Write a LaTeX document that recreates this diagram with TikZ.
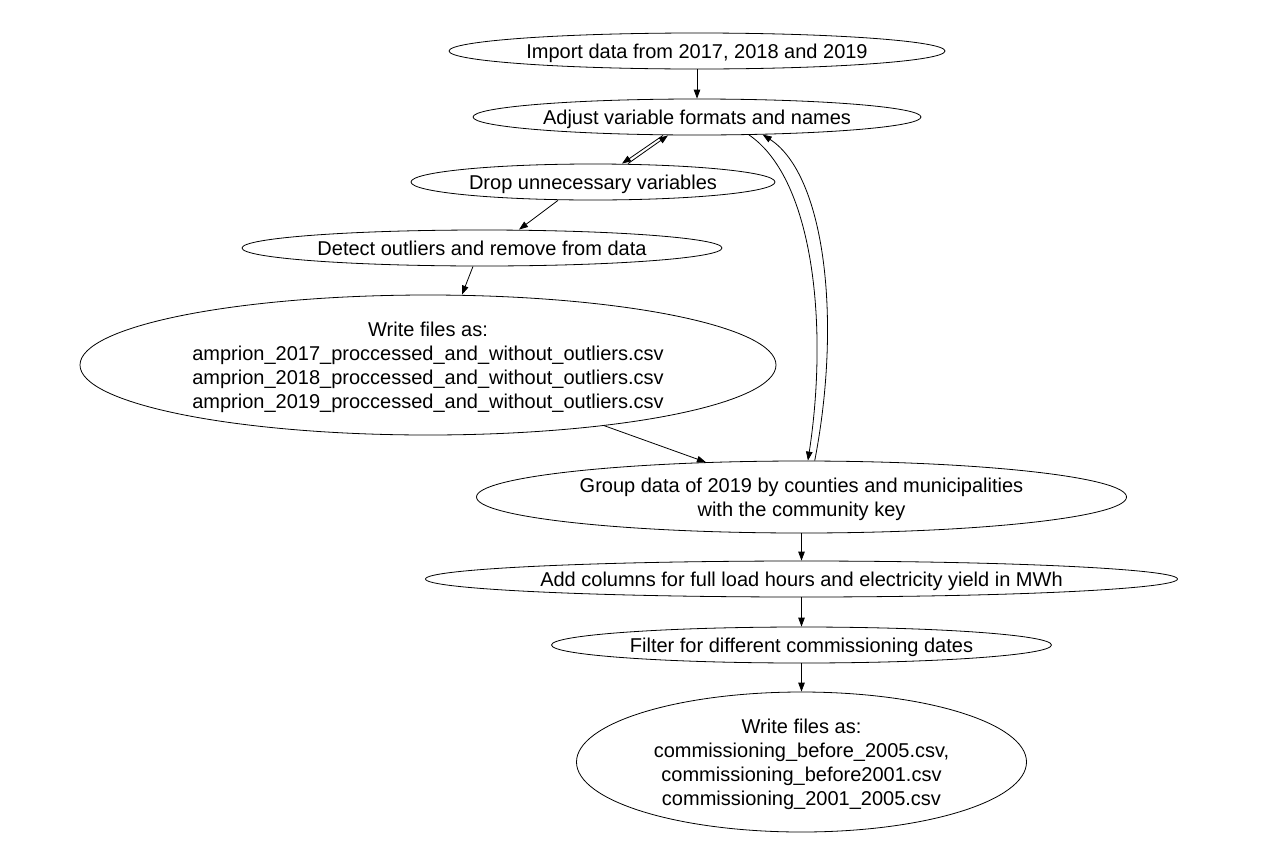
\documentclass[tikz,border=0pt]{standalone}
\usepackage{fontspec}
\setmainfont{Liberation Sans}
\usetikzlibrary{shapes.geometric,arrows.meta}

\begin{document}
\begin{tikzpicture}[x=1pt, y=-1pt,
    every node/.style={font=\fontsize{20}{24}\selectfont},
    stage/.style={ellipse, draw, line width=0.8pt, inner sep=0pt, text depth=0pt, align=center},
    flow/.style={-{Triangle[length=9pt,width=6.5pt]}, line width=0.8pt}
    ]
  \useasboundingbox (0,0) rectangle (1273,849);
  \node[stage, minimum width=496pt, minimum height=36pt] (imp) at (697,51) {Import data from 2017, 2018 and 2019};
  \node[stage, minimum width=448pt, minimum height=36pt] (adj) at (697,117) {Adjust variable formats and names};
  \node[stage, minimum width=364pt, minimum height=36pt] (drop) at (593,182) {Drop unnecessary variables};
  \node[stage, minimum width=480pt, minimum height=36pt] (det) at (482,248) {Detect outliers and remove from data};
  \node[stage, minimum width=696pt, minimum height=140pt] (wr1) at (428,365)
    {Write files as:\\amprion\_2017\_proccessed\_and\_without\_outliers.csv\\amprion\_2018\_proccessed\_and\_without\_outliers.csv\\amprion\_2019\_proccessed\_and\_without\_outliers.csv};
  \node[stage, minimum width=650pt, minimum height=72pt] (grp) at (801.5,497)
    {Group data of 2019 by counties and municipalities\\with the community key};
  \node[stage, inner xsep=-45pt, minimum width=752pt, minimum height=36pt] (add) at (801.5,579)
    {Add columns for full load hours and electricity yield in MWh};
  \node[stage, minimum width=500pt, minimum height=36pt] (fil) at (801.5,645) {Filter for different commissioning dates};
  \node[stage, minimum width=450pt, minimum height=140pt] (wr2) at (801.5,762)
    {Write files as:\\commissioning\_before\_2005.csv,\\commissioning\_before2001.csv\\commissioning\_2001\_2005.csv};

  \draw[flow] (imp) -- (adj);
  \draw[flow] ([xshift=-34pt]adj.south) -- ([xshift=29pt]drop.north);
  \draw[flow] ([xshift=35pt]drop.north) -- ([xshift=-29pt]adj.south);
  \draw[flow] ([xshift=-35pt]drop.south) -- ([xshift=37pt]det.north);
  \draw[flow] ([xshift=-9pt]det.south) -- ([xshift=34pt]wr1.north);
  \draw[flow] (wr1.-19.5) -- (grp.160.6);
  \draw[flow] (adj.-19.5) .. controls (815,180) and (828,330) .. (grp.80.5);
  \draw[flow] (grp.70) .. controls (842,320) and (825,175) .. (adj.-15.3);
  \draw[flow] (grp) -- (add);
  \draw[flow] (add) -- (fil);
  \draw[flow] (fil) -- (wr2);
\end{tikzpicture}
\end{document}
